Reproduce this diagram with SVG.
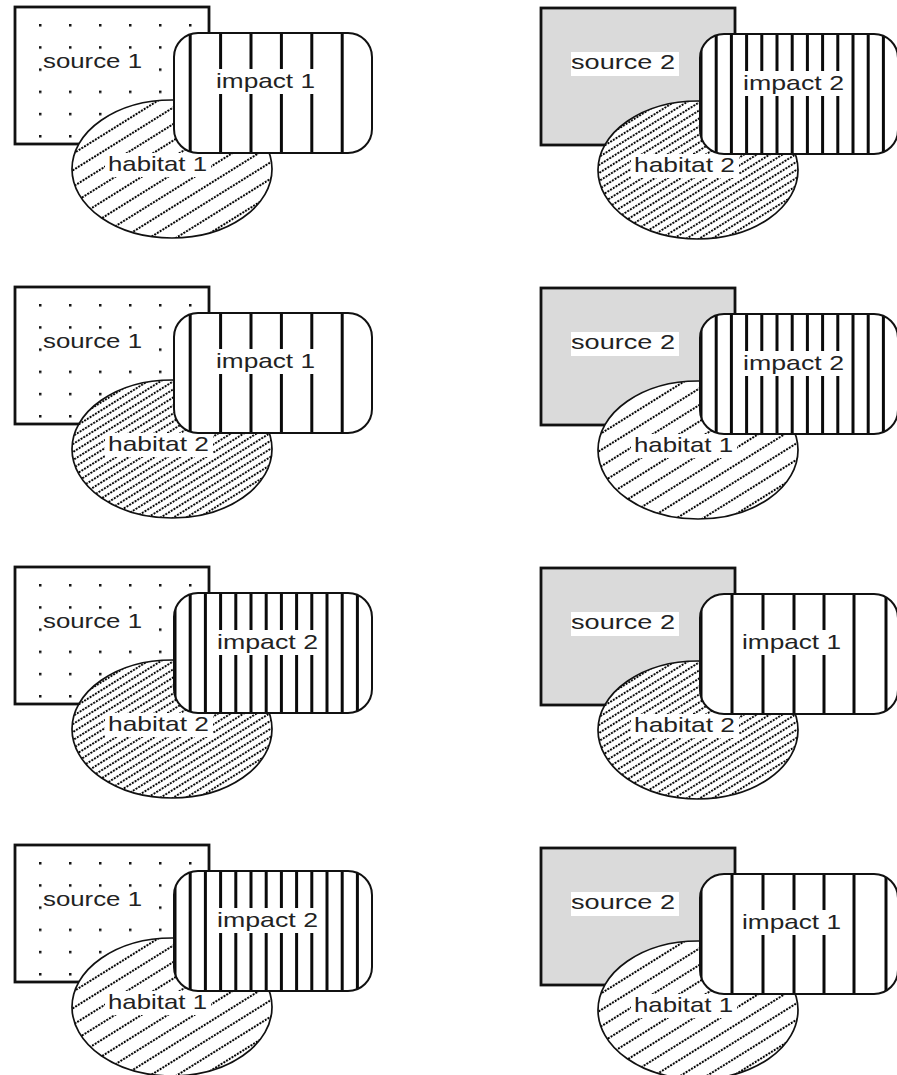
<svg xmlns="http://www.w3.org/2000/svg" xmlns:xlink="http://www.w3.org/1999/xlink" width="897" height="1075" viewBox="0 0 897 1075">
<style>
.bg{fill:#ffffff}
.sq{fill:none;stroke:#111;stroke-width:2.8}
.sq2{fill:#dadada;stroke:#111;stroke-width:2.8}
.ell{fill:none;stroke:#111;stroke-width:1.7}
.imp{fill:none;stroke:#111;stroke-width:2}
.vl{stroke:#0a0a0a;stroke-width:3}
.lbl{font-family:"Liberation Sans",Arial,sans-serif;font-size:21px;fill:#222}
.tb{fill:#ffffff}
</style>
<defs>
  <pattern id="dots" patternUnits="userSpaceOnUse" x="39" y="24" width="30" height="22.2">
    <rect x="0" y="0" width="2.5" height="2.5" fill="#111"/>
  </pattern>
  <pattern id="hatch1" patternUnits="userSpaceOnUse" width="3.2" height="14" patternTransform="rotate(-32)">
    <rect x="0" y="0" width="2" height="2" fill="#000"/>
  </pattern>
  <pattern id="hatch2" patternUnits="userSpaceOnUse" width="3.2" height="6.8" patternTransform="rotate(-32)">
    <rect x="0" y="0" width="2" height="1.9" fill="#000"/>
  </pattern>
  <clipPath id="impClip" clipPathUnits="userSpaceOnUse">
    <rect x="174" y="33" width="198" height="120" rx="24" ry="24"/>
  </clipPath>
  <g id="vl-all" class="vl">
    <line x1="175" y1="30" x2="175" y2="156"/>
    <line x1="190.2" y1="30" x2="190.2" y2="156"/>
    <line x1="205.4" y1="30" x2="205.4" y2="156"/>
    <line x1="220.6" y1="30" x2="220.6" y2="156"/>
    <line x1="235.8" y1="30" x2="235.8" y2="156"/>
    <line x1="251" y1="30" x2="251" y2="156"/>
    <line x1="266.2" y1="30" x2="266.2" y2="156"/>
    <line x1="281.4" y1="30" x2="281.4" y2="156"/>
    <line x1="296.6" y1="30" x2="296.6" y2="156"/>
    <line x1="311.8" y1="30" x2="311.8" y2="156"/>
    <line x1="327" y1="30" x2="327" y2="156"/>
    <line x1="342.2" y1="30" x2="342.2" y2="156"/>
    <line x1="357.4" y1="30" x2="357.4" y2="156"/>
  </g>
  <g id="vl-odd" class="vl">
    <line x1="190.2" y1="30" x2="190.2" y2="156"/>
    <line x1="220.6" y1="30" x2="220.6" y2="156"/>
    <line x1="251" y1="30" x2="251" y2="156"/>
    <line x1="281.4" y1="30" x2="281.4" y2="156"/>
    <line x1="311.8" y1="30" x2="311.8" y2="156"/>
    <line x1="342.2" y1="30" x2="342.2" y2="156"/>
  </g>
  <g id="vl-even" class="vl">
    <line x1="175" y1="30" x2="175" y2="156"/>
    <line x1="206" y1="30" x2="206" y2="156"/>
    <line x1="237" y1="30" x2="237" y2="156"/>
    <line x1="268" y1="30" x2="268" y2="156"/>
    <line x1="298" y1="30" x2="298" y2="156"/>
    <line x1="328" y1="30" x2="328" y2="156"/>
    <line x1="360" y1="30" x2="360" y2="156"/>
  </g>
</defs>
<rect width="897" height="1075" fill="#ffffff"/>

<!-- Panel 1: source 1, habitat 1, impact 1 -->
<g id="panel1" transform="translate(0,0)">
  <g id="p1-source">
    <rect class="bg" x="15" y="7" width="194" height="137"/>
    <rect x="15" y="7" width="194" height="137" fill="url(#dots)"/>
    <rect class="tb" x="42" y="50" width="105" height="25"/>
    <rect class="sq" x="15" y="7" width="194" height="137"/>
    <text class="lbl" x="43" y="68" textLength="99" lengthAdjust="spacingAndGlyphs">source 1</text>
  </g>
  <g id="p1-habitat">
    <ellipse class="bg" cx="172" cy="169" rx="100" ry="69"/>
    <ellipse cx="172" cy="169" rx="100" ry="69" fill="url(#hatch1)"/>
    <rect class="tb" x="105" y="153" width="106" height="24"/>
    <ellipse class="ell" cx="172" cy="169" rx="100" ry="69"/>
    <text class="lbl" x="108" y="171" textLength="99" lengthAdjust="spacingAndGlyphs">habitat 1</text>
  </g>
  <g id="p1-impact">
    <rect class="bg" x="174" y="33" width="198" height="120" rx="24"/>
    <use xlink:href="#vl-odd" href="#vl-odd" clip-path="url(#impClip)"/>
    <rect class="tb" x="213" y="69" width="106" height="25"/>
    <rect class="imp" x="174" y="33" width="198" height="120" rx="24"/>
    <text class="lbl" x="216" y="88" textLength="99" lengthAdjust="spacingAndGlyphs">impact 1</text>
  </g>
</g>

<!-- Panel 2: source 2, habitat 2, impact 2 -->
<g id="panel2" transform="translate(526,1)">
  <g id="p2-source">
    <rect class="sq2" x="15" y="7" width="194" height="137"/>
    <rect class="tb" x="45" y="51" width="108" height="24"/>
    <text class="lbl" x="45" y="68" textLength="104" lengthAdjust="spacingAndGlyphs">source 2</text>
  </g>
  <g id="p2-habitat">
    <ellipse class="bg" cx="172" cy="169" rx="100" ry="69"/>
    <ellipse cx="172" cy="169" rx="100" ry="69" fill="url(#hatch2)"/>
    <rect class="tb" x="105" y="153" width="108" height="24"/>
    <ellipse class="ell" cx="172" cy="169" rx="100" ry="69"/>
    <text class="lbl" x="108" y="171" textLength="101" lengthAdjust="spacingAndGlyphs">habitat 2</text>
  </g>
  <g id="p2-impact">
    <rect class="bg" x="174" y="33" width="198" height="120" rx="24"/>
    <use xlink:href="#vl-all" href="#vl-all" clip-path="url(#impClip)"/>
    <rect class="tb" x="214" y="70" width="108" height="25"/>
    <rect class="imp" x="174" y="33" width="198" height="120" rx="24"/>
    <text class="lbl" x="217" y="89" textLength="101" lengthAdjust="spacingAndGlyphs">impact 2</text>
  </g>
</g>

<!-- Panel 3: source 1, habitat 2, impact 1 -->
<g id="panel3" transform="translate(0,280)">
  <g id="p3-source">
    <rect class="bg" x="15" y="7" width="194" height="137"/>
    <rect x="15" y="7" width="194" height="137" fill="url(#dots)"/>
    <rect class="tb" x="42" y="50" width="105" height="25"/>
    <rect class="sq" x="15" y="7" width="194" height="137"/>
    <text class="lbl" x="43" y="68" textLength="99" lengthAdjust="spacingAndGlyphs">source 1</text>
  </g>
  <g id="p3-habitat">
    <ellipse class="bg" cx="172" cy="169" rx="100" ry="69"/>
    <ellipse cx="172" cy="169" rx="100" ry="69" fill="url(#hatch2)"/>
    <rect class="tb" x="105" y="153" width="108" height="24"/>
    <ellipse class="ell" cx="172" cy="169" rx="100" ry="69"/>
    <text class="lbl" x="108" y="171" textLength="101" lengthAdjust="spacingAndGlyphs">habitat 2</text>
  </g>
  <g id="p3-impact">
    <rect class="bg" x="174" y="33" width="198" height="120" rx="24"/>
    <use xlink:href="#vl-odd" href="#vl-odd" clip-path="url(#impClip)"/>
    <rect class="tb" x="213" y="69" width="106" height="25"/>
    <rect class="imp" x="174" y="33" width="198" height="120" rx="24"/>
    <text class="lbl" x="216" y="88" textLength="99" lengthAdjust="spacingAndGlyphs">impact 1</text>
  </g>
</g>

<!-- Panel 4: source 2, habitat 1, impact 2 -->
<g id="panel4" transform="translate(526,281)">
  <g id="p4-source">
    <rect class="sq2" x="15" y="7" width="194" height="137"/>
    <rect class="tb" x="45" y="51" width="108" height="24"/>
    <text class="lbl" x="45" y="68" textLength="104" lengthAdjust="spacingAndGlyphs">source 2</text>
  </g>
  <g id="p4-habitat">
    <ellipse class="bg" cx="172" cy="169" rx="100" ry="69"/>
    <ellipse cx="172" cy="169" rx="100" ry="69" fill="url(#hatch1)"/>
    <rect class="tb" x="105" y="153" width="106" height="24"/>
    <ellipse class="ell" cx="172" cy="169" rx="100" ry="69"/>
    <text class="lbl" x="108" y="171" textLength="99" lengthAdjust="spacingAndGlyphs">habitat 1</text>
  </g>
  <g id="p4-impact">
    <rect class="bg" x="174" y="33" width="198" height="120" rx="24"/>
    <use xlink:href="#vl-all" href="#vl-all" clip-path="url(#impClip)"/>
    <rect class="tb" x="214" y="70" width="108" height="25"/>
    <rect class="imp" x="174" y="33" width="198" height="120" rx="24"/>
    <text class="lbl" x="217" y="89" textLength="101" lengthAdjust="spacingAndGlyphs">impact 2</text>
  </g>
</g>

<!-- Panel 5: source 1, habitat 2, impact 2 -->
<g id="panel5" transform="translate(0,560)">
  <g id="p5-source">
    <rect class="bg" x="15" y="7" width="194" height="137"/>
    <rect x="15" y="7" width="194" height="137" fill="url(#dots)"/>
    <rect class="tb" x="42" y="50" width="105" height="25"/>
    <rect class="sq" x="15" y="7" width="194" height="137"/>
    <text class="lbl" x="43" y="68" textLength="99" lengthAdjust="spacingAndGlyphs">source 1</text>
  </g>
  <g id="p5-habitat">
    <ellipse class="bg" cx="172" cy="169" rx="100" ry="69"/>
    <ellipse cx="172" cy="169" rx="100" ry="69" fill="url(#hatch2)"/>
    <rect class="tb" x="105" y="153" width="108" height="24"/>
    <ellipse class="ell" cx="172" cy="169" rx="100" ry="69"/>
    <text class="lbl" x="108" y="171" textLength="101" lengthAdjust="spacingAndGlyphs">habitat 2</text>
  </g>
  <g id="p5-impact">
    <rect class="bg" x="174" y="33" width="198" height="120" rx="24"/>
    <use xlink:href="#vl-all" href="#vl-all" clip-path="url(#impClip)"/>
    <rect class="tb" x="214" y="70" width="108" height="25"/>
    <rect class="imp" x="174" y="33" width="198" height="120" rx="24"/>
    <text class="lbl" x="217" y="89" textLength="101" lengthAdjust="spacingAndGlyphs">impact 2</text>
  </g>
</g>

<!-- Panel 6: source 2, habitat 2, impact 1 -->
<g id="panel6" transform="translate(526,561)">
  <g id="p6-source">
    <rect class="sq2" x="15" y="7" width="194" height="137"/>
    <rect class="tb" x="45" y="51" width="108" height="24"/>
    <text class="lbl" x="45" y="68" textLength="104" lengthAdjust="spacingAndGlyphs">source 2</text>
  </g>
  <g id="p6-habitat">
    <ellipse class="bg" cx="172" cy="169" rx="100" ry="69"/>
    <ellipse cx="172" cy="169" rx="100" ry="69" fill="url(#hatch2)"/>
    <rect class="tb" x="105" y="153" width="108" height="24"/>
    <ellipse class="ell" cx="172" cy="169" rx="100" ry="69"/>
    <text class="lbl" x="108" y="171" textLength="101" lengthAdjust="spacingAndGlyphs">habitat 2</text>
  </g>
  <g id="p6-impact">
    <rect class="bg" x="174" y="33" width="198" height="120" rx="24"/>
    <use xlink:href="#vl-even" href="#vl-even" clip-path="url(#impClip)"/>
    <rect class="tb" x="213" y="69" width="106" height="25"/>
    <rect class="imp" x="174" y="33" width="198" height="120" rx="24"/>
    <text class="lbl" x="216" y="88" textLength="99" lengthAdjust="spacingAndGlyphs">impact 1</text>
  </g>
</g>

<!-- Panel 7: source 1, habitat 1, impact 2 -->
<g id="panel7" transform="translate(0,838)">
  <g id="p7-source">
    <rect class="bg" x="15" y="7" width="194" height="137"/>
    <rect x="15" y="7" width="194" height="137" fill="url(#dots)"/>
    <rect class="tb" x="42" y="50" width="105" height="25"/>
    <rect class="sq" x="15" y="7" width="194" height="137"/>
    <text class="lbl" x="43" y="68" textLength="99" lengthAdjust="spacingAndGlyphs">source 1</text>
  </g>
  <g id="p7-habitat">
    <ellipse class="bg" cx="172" cy="169" rx="100" ry="69"/>
    <ellipse cx="172" cy="169" rx="100" ry="69" fill="url(#hatch1)"/>
    <rect class="tb" x="105" y="153" width="106" height="24"/>
    <ellipse class="ell" cx="172" cy="169" rx="100" ry="69"/>
    <text class="lbl" x="108" y="171" textLength="99" lengthAdjust="spacingAndGlyphs">habitat 1</text>
  </g>
  <g id="p7-impact">
    <rect class="bg" x="174" y="33" width="198" height="120" rx="24"/>
    <use xlink:href="#vl-all" href="#vl-all" clip-path="url(#impClip)"/>
    <rect class="tb" x="214" y="70" width="108" height="25"/>
    <rect class="imp" x="174" y="33" width="198" height="120" rx="24"/>
    <text class="lbl" x="217" y="89" textLength="101" lengthAdjust="spacingAndGlyphs">impact 2</text>
  </g>
</g>

<!-- Panel 8: source 2, habitat 1, impact 1 -->
<g id="panel8" transform="translate(526,841)">
  <g id="p8-source">
    <rect class="sq2" x="15" y="7" width="194" height="137"/>
    <rect class="tb" x="45" y="51" width="108" height="24"/>
    <text class="lbl" x="45" y="68" textLength="104" lengthAdjust="spacingAndGlyphs">source 2</text>
  </g>
  <g id="p8-habitat">
    <ellipse class="bg" cx="172" cy="169" rx="100" ry="69"/>
    <ellipse cx="172" cy="169" rx="100" ry="69" fill="url(#hatch1)"/>
    <rect class="tb" x="105" y="153" width="106" height="24"/>
    <ellipse class="ell" cx="172" cy="169" rx="100" ry="69"/>
    <text class="lbl" x="108" y="171" textLength="99" lengthAdjust="spacingAndGlyphs">habitat 1</text>
  </g>
  <g id="p8-impact">
    <rect class="bg" x="174" y="33" width="198" height="120" rx="24"/>
    <use xlink:href="#vl-even" href="#vl-even" clip-path="url(#impClip)"/>
    <rect class="tb" x="213" y="69" width="106" height="25"/>
    <rect class="imp" x="174" y="33" width="198" height="120" rx="24"/>
    <text class="lbl" x="216" y="88" textLength="99" lengthAdjust="spacingAndGlyphs">impact 1</text>
  </g>
</g>

<g id="connectors"/>
</svg>
